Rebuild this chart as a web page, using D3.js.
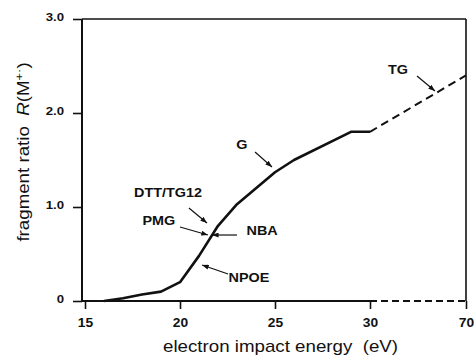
<!DOCTYPE html>
<html>
<head>
<meta charset="utf-8">
<script src="https://cdn.jsdelivr.net/npm/d3@7"></script>
<style>
  html, body { margin: 0; padding: 0; background: #fff; }
  svg { display: block; }
  text { font-family: "Liberation Sans", Arial, Helvetica, sans-serif; fill: #111; }
</style>
</head>
<body>
<svg id="chart" width="474" height="362"></svg>
<script>
// Measured curve: fragment ratio R(M+.) vs electron impact energy
const energy = [16, 17, 18, 19, 20, 21, 22, 23, 24, 25, 26, 29, 30];
const ratio  = [0, 0.03, 0.07, 0.1, 0.2, 0.48, 0.8, 1.03, 1.2, 1.37, 1.5, 1.8, 1.8];
// Extrapolated part (dashed) up to 70 eV
const extEnergy = [30, 70];
const extRatio  = [1.8, 2.4];

const xTicks = [15, 20, 25, 30, 70];
const yTicks = [0, 1, 2, 3];
const yTickLabels = ["0", "1.0", "2.0", "3.0"];

// Compound labels and their leader arrows, in data units (eV, ratio)
const labelNames = ["G", "TG", "DTT/TG12", "PMG", "NBA", "NPOE"];
const labelE     = [23.26, 41.67, 19.37, 18.89, 24.32, 23.63];
const labelR     = [1.66, 2.457, 1.149, 0.851, 0.745, 0.245];
const arrowFromE = [23.95, 49.58, 20.47, 20.0, 23.0, 22.53];
const arrowFromR = [1.585, 2.394, 0.989, 0.787, 0.702, 0.287];
const arrowToE   = [24.84, 57.08, 21.42, 21.47, 21.68, 21.16];
const arrowToR   = [1.426, 2.234, 0.830, 0.702, 0.702, 0.383];

const svg = d3.select("#chart");

// Broken energy axis: 15-30 eV linear, then compressed 30-70 eV
const x = d3.scaleLinear().domain([15, 30, 70]).range([85, 370, 466]);
const y = d3.scaleLinear().domain([0, 3]).range([301, 19]);
const axisX = 82;

// Text helper: glyphs drawn slightly wide
function wideText(g, px, py, str, size, sx, weight, anchor, rot) {
  return g.append("text")
    .attr("transform", `translate(${px},${py})` + (rot ? ` rotate(${rot})` : "") + ` scale(${sx},1)`)
    .attr("text-anchor", anchor || "middle")
    .style("font-size", size + "px")
    .style("font-weight", weight || "normal")
    .text(str);
}

const defs = svg.append("defs");
defs.append("marker")
  .attr("id", "head")
  .attr("markerUnits", "userSpaceOnUse")
  .attr("viewBox", "0 0 8 6")
  .attr("refX", 8).attr("refY", 3)
  .attr("markerWidth", 7).attr("markerHeight", 5)
  .attr("orient", "auto")
  .append("path").attr("d", "M0,0 L8,3 L0,6 Z").attr("fill", "#111");

// Frame: top and right edges
svg.append("line")
  .attr("x1", axisX).attr("x2", x(70)).attr("y1", y(3)).attr("y2", y(3))
  .attr("stroke", "#111").attr("stroke-width", 1.6);
svg.append("line")
  .attr("x1", x(70)).attr("x2", x(70)).attr("y1", y(3)).attr("y2", y(0))
  .attr("stroke", "#111").attr("stroke-width", 1.6);

// Baseline: solid to 30 eV, dashed beyond
svg.append("line")
  .attr("x1", axisX).attr("x2", x(30)).attr("y1", y(0)).attr("y2", y(0))
  .attr("stroke", "#111").attr("stroke-width", 2);
svg.append("line")
  .attr("x1", x(30)).attr("x2", x(70)).attr("y1", y(0)).attr("y2", y(0))
  .attr("stroke", "#111").attr("stroke-width", 1.8).attr("stroke-dasharray", "7,4");

// Left axis line
svg.append("line")
  .attr("x1", axisX).attr("x2", axisX).attr("y1", y(3)).attr("y2", y(0))
  .attr("stroke", "#111").attr("stroke-width", 2);

// X axis ticks and labels
const gx = svg.append("g")
  .attr("transform", `translate(0,${y(0)})`)
  .call(d3.axisBottom(x).tickValues(xTicks).tickSize(8).tickPadding(9).tickFormat(d3.format("d")));
gx.select(".domain").remove();
gx.selectAll(".tick line").attr("stroke", "#111").attr("stroke-width", 1.6);
gx.selectAll(".tick text")
  .attr("fill", "#111")
  .style("font-size", "12px").style("font-weight", "bold")
  .attr("transform", "scale(1.15,1)");

// Y axis ticks and labels
const gy = svg.append("g")
  .attr("transform", `translate(${axisX},0)`)
  .call(d3.axisLeft(y).tickValues(yTicks).tickSize(9).tickPadding(9)
    .tickFormat((d, i) => yTickLabels[i]));
gy.select(".domain").remove();
gy.selectAll(".tick line").attr("stroke", "#111").attr("stroke-width", 1.6);
gy.selectAll(".tick text")
  .attr("fill", "#111")
  .style("font-size", "11px").style("font-weight", "bold")
  .attr("dy", "0.15em")
  .attr("x", -18 / 1.2)
  .attr("transform", "scale(1.2,1)");

// Curve
const line = d3.line().x(d => x(d[0])).y(d => y(d[1]));
svg.append("path")
  .datum(energy.map((e, i) => [e, ratio[i]]))
  .attr("d", line)
  .attr("fill", "none").attr("stroke", "#111").attr("stroke-width", 2.6)
  .attr("stroke-linejoin", "round");
svg.append("path")
  .datum(extEnergy.map((e, i) => [e, extRatio[i]]))
  .attr("d", line)
  .attr("fill", "none").attr("stroke", "#111").attr("stroke-width", 2)
  .attr("stroke-dasharray", "8,5");

// Compound labels with leader arrows
const ann = svg.append("g");
labelNames.forEach((name, i) => {
  ann.append("line")
    .attr("x1", x(arrowFromE[i])).attr("y1", y(arrowFromR[i]))
    .attr("x2", x(arrowToE[i])).attr("y2", y(arrowToR[i]))
    .attr("stroke", "#111").attr("stroke-width", 1.2)
    .attr("marker-end", "url(#head)");
  wideText(ann, x(labelE[i]), y(labelR[i]) + 4.3, name, 12, 1.2, "bold", "middle");
});

// Axis titles
wideText(svg, 280.5, 352, "electron impact energy\u00A0\u00A0(eV)", 16, 1.17, "normal", "middle");

const yt = wideText(svg, 29, 152, "", 16, 1.17, "normal", "middle", -90);
yt.append("tspan").text("fragment ratio\u00A0\u00A0");
yt.append("tspan").style("font-style", "italic").text("R");
yt.append("tspan").text("(M");
yt.append("tspan").attr("baseline-shift", "super").style("font-size", "11px").text("+\u00B7");
yt.append("tspan").text(")");
</script>
</body>
</html>
